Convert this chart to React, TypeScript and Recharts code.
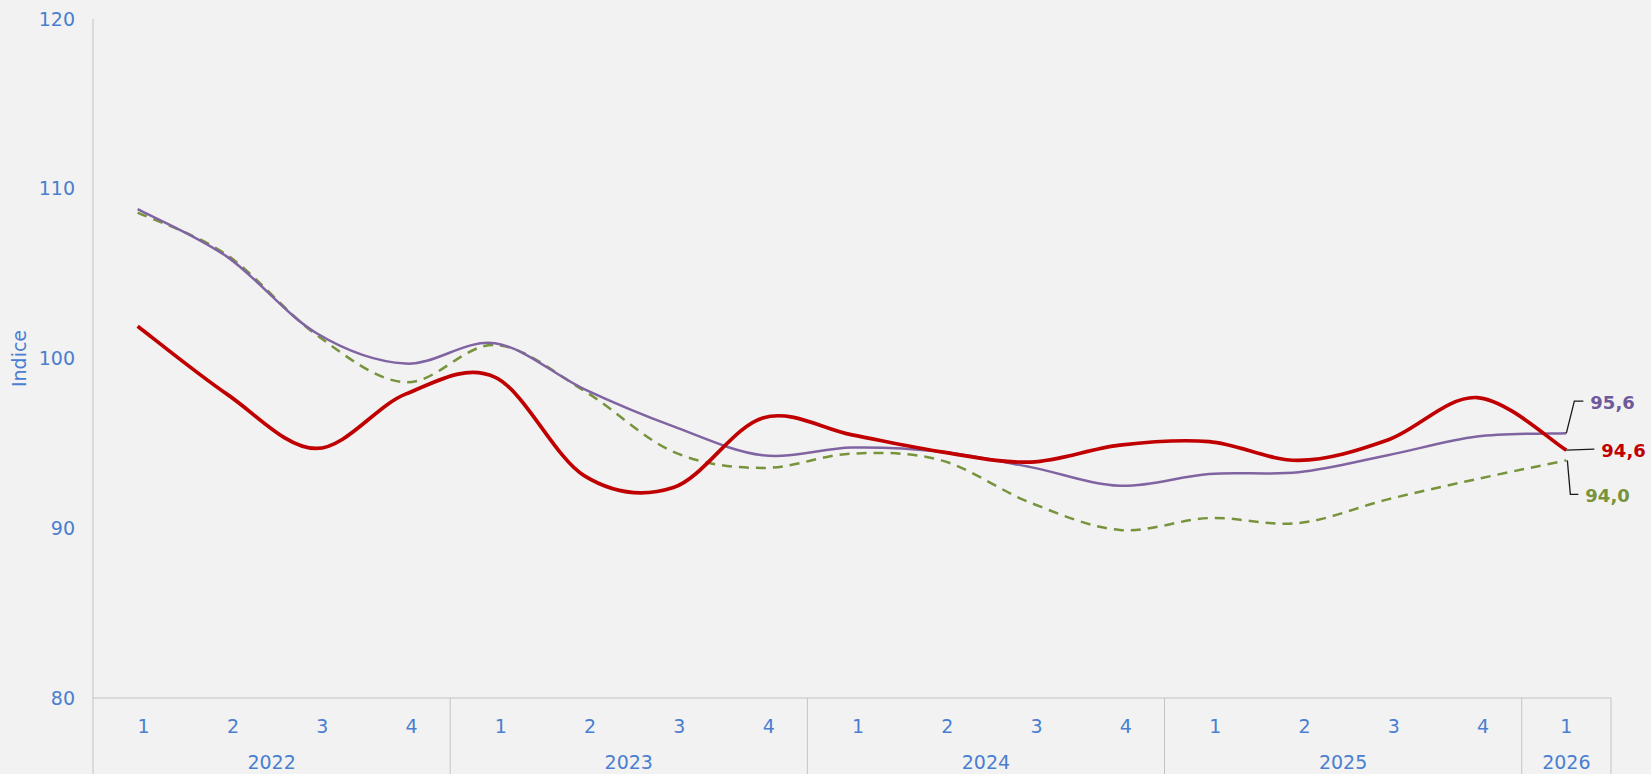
import { LabelList, Line, LineChart, XAxis, YAxis } from "recharts";

const quarters = ["1", "2", "3", "4", "1", "2", "3", "4", "1", "2", "3", "4", "1", "2", "3", "4", "1"];
const years = [
  "2022", "2022", "2022", "2022",
  "2023", "2023", "2023", "2023",
  "2024", "2024", "2024", "2024",
  "2025", "2025", "2025", "2025",
  "2026",
];
const serieViola = [108.8, 106.0, 101.5, 99.7, 100.9, 98.2, 96.0, 94.3, 94.75, 94.5, 93.6, 92.5, 93.2, 93.3, 94.3, 95.4, 95.6];
const serieVerde = [108.6, 106.1, 101.4, 98.6, 100.8, 98.1, 94.5, 93.55, 94.4, 94.0, 91.5, 89.9, 90.6, 90.3, 91.7, 92.9, 94.0];
const serieRossa = [101.9, 97.9, 94.7, 97.9, 98.9, 93.1, 92.4, 96.5, 95.5, 94.5, 93.9, 94.9, 95.1, 94.0, 95.2, 97.7, 94.6];
const yTicks = [80, 90, 100, 110, 120];

const data = quarters.map((q, i) => ({
  key: `${years[i]}-${q}-${i}`,
  q,
  year: years[i],
  viola: serieViola[i],
  verde: serieVerde[i],
  rossa: serieRossa[i],
}));

const W = 1651;
const H = 774;
const M = { top: 19, right: 40, left: 0, bottom: 0 };
const Y_W = 93;
const X_H = 76;
const BAND = (W - M.left - M.right - Y_W) / data.length;

const AXIS = "#c4c4c4";
const TXT = "#4a7ed0";
const FONT = "'DejaVu Sans', Verdana, sans-serif";

// Excel-like smoothing (Catmull-Rom through every point)
function excelSmooth(ctx: any) {
  let pts: [number, number][] = [];
  return {
    areaStart() {},
    areaEnd() {},
    lineStart() {
      pts = [];
    },
    point(x: number, y: number) {
      pts.push([+x, +y]);
    },
    lineEnd() {
      if (!pts.length) return;
      ctx.moveTo(pts[0][0], pts[0][1]);
      for (let i = 0; i < pts.length - 1; i++) {
        const p0 = pts[i - 1] || pts[i];
        const p1 = pts[i];
        const p2 = pts[i + 1];
        const p3 = pts[i + 2] || p2;
        ctx.bezierCurveTo(
          p1[0] + (p2[0] - p0[0]) / 6,
          p1[1] + (p2[1] - p0[1]) / 6,
          p2[0] - (p3[0] - p1[0]) / 6,
          p2[1] - (p3[1] - p1[1]) / 6,
          p2[0],
          p2[1]
        );
      }
    },
  };
}

function QuarterTick(props: any) {
  const { x, y, index } = props;
  const i = index as number;
  const yr = years[i];
  const firstOfYear = i === 0 || years[i - 1] !== yr;
  const n = years.filter((v) => v === yr).length;
  const last = i === data.length - 1;
  return (
    <g>
      <text
        x={x + (n > 1 ? 6 : 0)}
        y={y + 34.5}
        textAnchor="middle"
        fill={TXT}
        fontSize={19}
        fontFamily={FONT}
      >
        {quarters[i]}
      </text>
      {firstOfYear && (
        <>
          <line x1={x - BAND / 2} x2={x - BAND / 2} y1={y} y2={y + X_H} stroke={AXIS} />
          <text
            x={x - BAND / 2 + (n * BAND) / 2}
            y={y + 71}
            textAnchor="middle"
            fill={TXT}
            fontSize={19}
            fontFamily={FONT}
          >
            {yr}
          </text>
        </>
      )}
      {last && <line x1={x + BAND / 2} x2={x + BAND / 2} y1={y} y2={y + X_H} stroke={AXIS} />}
    </g>
  );
}

function endLabel(color: string, dir: "up" | "flat" | "down") {
  return (props: any) => {
    const { x, y, index, value } = props;
    if (index !== data.length - 1) return null;
    const txt = Number(value).toFixed(1).replace(".", ",");
    let path = "";
    let tx = 0;
    let ty = 0;
    if (dir === "up") {
      path = `M${x},${y} L${x + 8},${y - 32} L${x + 17},${y - 32}`;
      tx = x + 24;
      ty = y - 31;
    } else if (dir === "flat") {
      path = `M${x},${y} L${x + 28},${y - 1}`;
      tx = x + 35;
      ty = y;
    } else {
      path = `M${x + 1},${y} L${x + 4},${y + 34} L${x + 12},${y + 34}`;
      tx = x + 19;
      ty = y + 35;
    }
    return (
      <g>
        <path d={path} stroke="#1a1a1a" strokeWidth={1.3} fill="none" />
        <text
          x={tx}
          y={ty}
          dy="0.36em"
          fill={color}
          fontSize={18}
          fontWeight="bold"
          fontFamily={FONT}
        >
          {txt}
        </text>
      </g>
    );
  };
}

export default function App() {
  return (
    <div
      style={{
        position: "absolute",
        left: 0,
        top: 0,
        width: W,
        height: H,
        background: "#f2f2f2",
        overflow: "hidden",
      }}
    >
      <LineChart width={W} height={H} data={data} margin={M} style={{ overflow: "visible" }}>
        <XAxis
          dataKey="key"
          scale="band"
          interval={0}
          height={X_H}
          tickLine={false}
          tickSize={0}
          tickMargin={0}
          axisLine={{ stroke: AXIS }}
          tick={<QuarterTick />}
        />
        <YAxis
          width={Y_W}
          domain={[80, 120]}
          ticks={yTicks}
          interval={0}
          tickLine={false}
          tickMargin={12}
          axisLine={{ stroke: AXIS }}
          tick={{ fill: TXT, fontSize: 19, fontFamily: FONT }}
          label={{
            value: "Indice",
            angle: -90,
            position: "center",
            dx: -27,
            style: { fill: TXT, fontSize: 19, fontFamily: FONT },
          }}
        />
        <Line
          dataKey="verde"
          type={excelSmooth as any}
          stroke="#77933c"
          strokeWidth={2.5}
          strokeDasharray="10 7"
          dot={false}
          activeDot={false}
          isAnimationActive={false}
        >
          <LabelList dataKey="verde" content={endLabel("#77933c", "down")} />
        </Line>
        <Line
          dataKey="viola"
          type={excelSmooth as any}
          stroke="#8064a2"
          strokeWidth={2.5}
          dot={false}
          activeDot={false}
          isAnimationActive={false}
        >
          <LabelList dataKey="viola" content={endLabel("#6e5a9a", "up")} />
        </Line>
        <Line
          dataKey="rossa"
          type={excelSmooth as any}
          stroke="#c00000"
          strokeWidth={3.7}
          dot={false}
          activeDot={false}
          isAnimationActive={false}
        >
          <LabelList dataKey="rossa" content={endLabel("#c00000", "flat")} />
        </Line>
      </LineChart>
    </div>
  );
}
